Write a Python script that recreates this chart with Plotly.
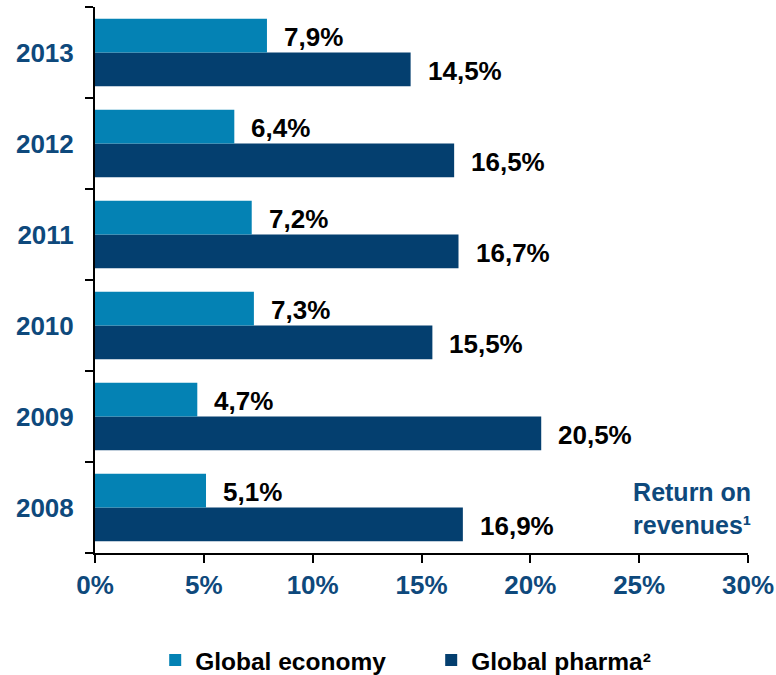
import plotly.graph_objects as go

years = ["2008", "2009", "2010", "2011", "2012", "2013"]
economy = [5.1, 4.7, 7.3, 7.2, 6.4, 7.9]
pharma = [16.9, 20.5, 15.5, 16.7, 16.5, 14.5]
tick_vals = [0, 5, 10, 15, 20, 25, 30]
tick_text = ["0%", "5%", "10%", "15%", "20%", "25%", "30%"]

C_ECON = "#0482B4"
C_PHARMA = "#043F6F"
C_TEXT = "#0E497C"
FONT = "Liberation Sans, Arial, sans-serif"

def fmt(v):
    return f"{v:.1f}".replace(".", ",") + "%"

fig = go.Figure()
fig.add_trace(go.Bar(
    y=years, x=pharma, orientation="h", name="Global pharma²",
    marker=dict(color=C_PHARMA, line=dict(width=0)),
))
fig.add_trace(go.Bar(
    y=years, x=economy, orientation="h", name="Global economy",
    marker=dict(color=C_ECON, line=dict(width=0)),
))

annotations = []
for i, y in enumerate(years):
    annotations.append(dict(x=economy[i], y=i + 0.2, xref="x", yref="y",
                            text=f"<b>{fmt(economy[i])}</b>", showarrow=False,
                            xanchor="left", yanchor="middle", xshift=15, yshift=-3,
                            font=dict(family=FONT, size=26, color="black")))
    annotations.append(dict(x=pharma[i], y=i - 0.17, xref="x", yref="y",
                            text=f"<b>{fmt(pharma[i])}</b>", showarrow=False,
                            xanchor="left", yanchor="middle", xshift=15, yshift=-3,
                            font=dict(family=FONT, size=26, color="black")))

annotations.append(dict(x=1.008, y=0.082, xref="paper", yref="paper",
                        text="<b>Return on<br>revenues¹</b>", showarrow=False,
                        xanchor="right", yanchor="middle", align="right",
                        font=dict(family=FONT, size=25, color=C_TEXT)))

fig.update_layout(
    width=776, height=675,
    margin=dict(l=95, r=28, t=7, b=122, autoexpand=False),
    plot_bgcolor="white", paper_bgcolor="white",
    barmode="group", bargap=0.26, bargroupgap=0,
    showlegend=True,
    legend=dict(orientation="h", xref="container", yref="container",
                x=0.2, xanchor="left", y=0.022, yanchor="middle",
                traceorder="reversed",
                font=dict(family=FONT, size=24.5, color="black"),
                itemwidth=30, entrywidth=231, entrywidthmode="pixels"),
    annotations=annotations,
    xaxis=dict(range=[0, 30], tickvals=tick_vals, ticktext=[f"<b>{t}</b>" for t in tick_text],
               showline=True, linecolor="black", linewidth=2,
               ticks="outside", ticklen=8, tickwidth=2, tickcolor="black",
               showgrid=False, zeroline=False, automargin=False,
               tickfont=dict(family=FONT, size=26, color=C_TEXT)),
    yaxis=dict(categoryorder="array", categoryarray=years,
               tickvals=years, ticktext=[f"<b>{y}</b>" for y in years],
               showline=True, linecolor="black", linewidth=2,
               ticks="outside", ticklen=8, tickwidth=2, tickcolor="black",
               tickson="boundaries", showgrid=False, range=[-0.5, 5.5], automargin=False,
               tickfont=dict(family=FONT, size=26, color=C_TEXT), ticklabelstandoff=14),
)
fig.for_each_trace(lambda t: t.update(name=f"<b>{t.name}</b>"))

fig.write_html("out.html")
